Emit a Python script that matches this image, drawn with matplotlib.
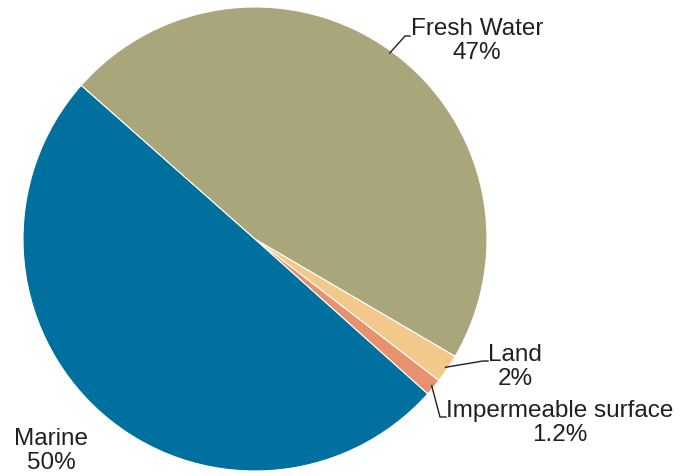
import numpy as np
import matplotlib
matplotlib.use("Agg")
import matplotlib.pyplot as plt

plt.rcParams['font.family'] = ['Liberation Sans', 'DejaVu Sans']

categories = ["Marine", "Impermeable surface", "Land", "Fresh Water"]
values = [50, 1.2, 2, 47]
pct_labels = ["50%", "1.2%", "2%", "47%"]
colors = ["#00709F", "#E8916F", "#F2C98A", "#A8A67A"]

W, H = 690, 477
cx, cy, R = 255, 240, 232

fig = plt.figure(figsize=(W / 100, H / 100), dpi=100)
ax = fig.add_axes([(cx - R) / W, (H - cy - R) / H, 2 * R / W, 2 * R / H])
wedges, _ = ax.pie(values, colors=colors, startangle=138.5, counterclock=True,
                   radius=1, wedgeprops=dict(edgecolor="white", linewidth=0.8))
ax.set_xlim(-1, 1)
ax.set_ylim(-1, 1)
ax.set_aspect('equal')
ax.axis('off')


def px(x, y):
    return (x - cx) / R, (cy - y) / R


# label positions (pixels) and leader elbows
label_pos = {
    "Marine": (51, 451),
    "Impermeable surface": (560, 423),
    "Land": (515, 367),
    "Fresh Water": (477, 41),
}
elbows = {
    "Impermeable surface": ((440, 418), (446, 418)),
    "Land": ((483, 362), (488, 362)),
    "Fresh Water": ((405, 37), (410, 37)),
}

txtcol = "#231F20"
for w, cat, pl in zip(wedges, categories, pct_labels):
    tx, ty = px(*label_pos[cat])
    ax.text(tx, ty, f"{cat}\n{pl}", ha="center", va="center", fontsize=17.5,
            color=txtcol, linespacing=1.1, clip_on=False)
    if cat in elbows:
        ang = np.deg2rad((w.theta1 + w.theta2) / 2)
        sx, sy = 0.99 * np.cos(ang), 0.99 * np.sin(ang)
        (e1, e2) = elbows[cat]
        ex, ey = px(*e1)
        hx, hy = px(*e2)
        ax.plot([sx, ex, hx], [sy, ey, hy], color=txtcol, lw=1.0,
                clip_on=False, solid_joinstyle="miter")

fig.savefig("out.png", dpi=100)
